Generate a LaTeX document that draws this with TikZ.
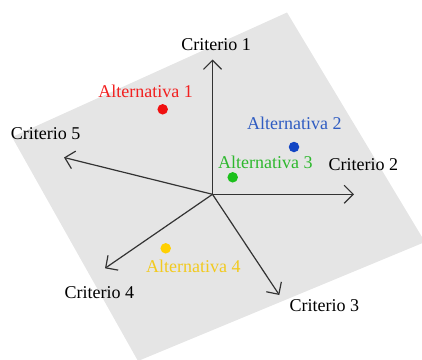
\documentclass[tikz,border=0pt]{standalone}
\usepackage{fontspec}
\setmainfont{Liberation Serif}
\usetikzlibrary{arrows.meta}
\definecolor{bgGray}{HTML}{E5E5E5}
\definecolor{axisCol}{HTML}{333333}
\definecolor{redDot}{HTML}{F01010}
\definecolor{blueDot}{HTML}{1245C4}
\definecolor{greenDot}{HTML}{1CC01C}
\definecolor{yellowDot}{HTML}{FFD000}
\definecolor{redTxt}{HTML}{F22020}
\definecolor{blueTxt}{HTML}{2F5CC2}
\definecolor{greenTxt}{HTML}{2EB82E}
\definecolor{yellowTxt}{HTML}{F2CA1E}
\tikzset{
  axis/.style={draw=axisCol, line width=1.2pt, -{Straight Barb[length=9pt,width=18pt,line width=1.2pt]}},
  lbl/.style={font=\fontsize{18}{21}\selectfont, inner sep=0pt},
  dot/.style={circle, inner sep=0pt, minimum size=10.5pt},
}
\begin{document}
\begin{tikzpicture}[x=1pt,y=-1pt]
\clip (0,0) rectangle (422,359);
\fill[bgGray] (287,12.5) -- (425,242) -- (138,361) -- (12,137) -- cycle;
\coordinate (O) at (212.5,194.3);
\coordinate (t1) at (212.5,59.5);
\coordinate (t2) at (354,194.3);
\coordinate (t3) at (279.3,295);
\coordinate (t4) at (105,268.3);
\coordinate (t5) at (64,157.5);
\draw[axis] (O) -- (t1);
\draw[axis] (O) -- (t2);
\draw[axis] (O) -- (t3);
\draw[axis] (O) -- (t4);
\draw[axis] (O) -- (t5);
\node[lbl] (c1) at (216,45) {Criterio 1};
\node[lbl] (c2) at (363.3,164.3) {Criterio 2};
\node[lbl] (c3) at (324.3,305.7) {Criterio 3};
\node[lbl] (c4) at (99.3,292.3) {Criterio 4};
\node[lbl] (c5) at (45.7,133.3) {Criterio 5};
\node[dot, fill=redDot] (d1) at (162.7,109.3) {};
\node[dot, fill=blueDot] (d2) at (294,147) {};
\node[dot, fill=greenDot] (d3) at (232.7,177.3) {};
\node[dot, fill=yellowDot] (d4) at (165.7,248.3) {};
\node[lbl, text=redTxt] (a1) at (145.7,91) {Alternativa 1};
\node[lbl, text=blueTxt] (a2) at (294.3,123.3) {Alternativa 2};
\node[lbl, text=greenTxt] (a3) at (265.3,162.7) {Alternativa 3};
\node[lbl, text=yellowTxt] (a4) at (193.3,266.7) {Alternativa 4};
\end{tikzpicture}
\end{document}
